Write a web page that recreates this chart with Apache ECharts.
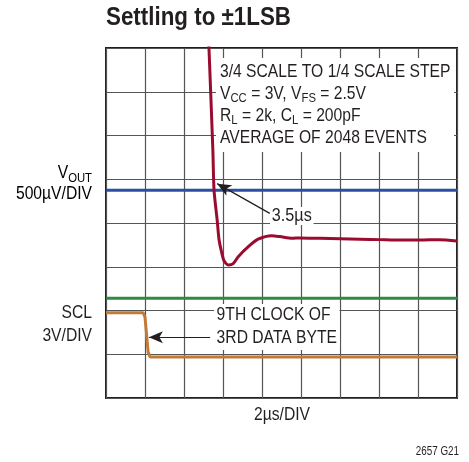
<!DOCTYPE html>
<html>
<head>
<meta charset="utf-8">
<script src="https://cdn.jsdelivr.net/npm/echarts@6/dist/echarts.min.js"></script>
<style>
  html, body { margin: 0; padding: 0; background: #fff; }
  #chart { width: 469px; height: 462px; }
</style>
</head>
<body>
<div id="chart"></div>
<script>
// scope trace, units are divisions (x: 2us/div, y: per channel scale)
const voutX = [2.62, 2.64, 2.74, 2.77, 2.85, 2.90, 2.97, 3.03, 3.14, 3.26, 3.39, 3.65, 3.90, 4.25, 4.46, 4.77, 4.97, 5.49, 6.00, 6.51, 7.03, 7.54, 8.05, 8.56, 9.00];
const voutY = [8.40, 8.00, 5.67, 4.75, 4.07, 3.61, 3.31, 3.13, 3.04, 3.07, 3.23, 3.46, 3.63, 3.71, 3.69, 3.65, 3.66, 3.65, 3.64, 3.63, 3.62, 3.61, 3.61, 3.62, 3.59];
const sclX = [0, 0.95, 1.0, 1.08, 1.13, 9];
const sclY = [1.95, 1.95, 1.85, 1.05, 0.94, 0.94];
const settleLevel = 4.75;   // blue +1LSB reference
const sclRef = 2.28;        // green reference line

const chart = echarts.init(document.getElementById('chart'));
const font = '"Liberation Sans", Arial, sans-serif';
const ink = '#231f20';
const sx = 0.87;  // fake a condensed face

const pts = (xs, ys) => xs.map((x, i) => [x, ys[i]]);

const option = {
  backgroundColor: '#fff',
  animation: false,
  grid: { left: 106, top: 48, width: 351, height: 350, show: true, borderColor: ink, borderWidth: 2 },
  xAxis: {
    type: 'value', min: 0, max: 9, interval: 1,
    axisLine: { show: false }, axisTick: { show: false }, axisLabel: { show: false },
    splitLine: { lineStyle: { color: '#555', width: 1.2 } }
  },
  yAxis: {
    type: 'value', min: 0, max: 8, interval: 1,
    axisLine: { show: false }, axisTick: { show: false }, axisLabel: { show: false },
    splitLine: { lineStyle: { color: '#555', width: 1.2 } }
  },
  series: [
    {
      type: 'line', data: [[0, settleLevel], [9, settleLevel]], symbol: 'none',
      lineStyle: { color: '#2b4fa2', width: 3 }, z: 3
    },
    {
      type: 'line', data: [[0, sclRef], [9, sclRef]], symbol: 'none',
      lineStyle: { color: '#2f8a43', width: 3 }, z: 3
    },
    {
      type: 'line', data: pts(sclX, sclY), symbol: 'none',
      lineStyle: { color: '#c47a37', width: 3 }, z: 4
    },
    {
      type: 'line', data: pts(voutX, voutY), symbol: 'none', smooth: 0.25, clip: true,
      lineStyle: { color: '#9a0c2f', width: 3 }, z: 5,
      markLine: {
        silent: true, symbol: ['none', 'arrow'], symbolSize: [9, 14],
        lineStyle: { color: ink, width: 1.2, type: 'solid' },
        label: { show: false },
        data: [
          [{ coord: [4.2, 4.22] }, { coord: [2.85, 4.9] }],
          [{ coord: [2.67, 1.39] }, { coord: [1.1, 1.39] }]
        ]
      }
    }
  ],
  graphic: [
    {
      type: 'text', x: 106, y: 5, scaleX: 0.86, z: 11,
      style: { text: 'Settling to ±1LSB', font: 'bold 26px ' + font, fill: ink }
    },
    {
      type: 'rect', shape: { x: 216, y: 58, width: 238, height: 94 },
      style: { fill: '#fff' }, z: 10
    },
    {
      type: 'text', x: 220, y: 61, scaleX: sx, z: 11,
      style: {
        text: '3/4 SCALE TO 1/4 SCALE STEP\n{n|V}{s|CC}{n| = 3V, V}{s|FS}{n| = 2.5V}\n{n|R}{s|L}{n| = 2k, C}{s|L}{n| = 200pF}\nAVERAGE OF 2048 EVENTS',
        font: '18px ' + font, fill: ink, lineHeight: 22,
        rich: {
          n: { fontFamily: font, fontSize: 18, color: ink, lineHeight: 22 },
          s: { fontFamily: font, fontSize: 13, color: ink, padding: [9, 0, 0, 0], lineHeight: 22 }
        }
      }
    },
    {
      type: 'text', x: 270, y: 207, scaleX: 0.9, z: 11,
      style: { text: '3.5µs', font: '18px ' + font, fill: ink, backgroundColor: '#fff', padding: [0, 2] }
    },
    {
      type: 'text', x: 214, y: 304, scaleX: sx, z: 11,
      style: {
        text: '9TH CLOCK OF\n3RD DATA BYTE', font: '18px ' + font, fill: ink,
        lineHeight: 23, backgroundColor: '#fff', padding: [0, 3]
      }
    },
    {
      type: 'text', x: 92, y: 163, scaleX: sx, z: 11,
      style: {
        text: '{n|V}{s|OUT}\n{n|500µV/DIV}', align: 'right',
        rich: {
          n: { fontFamily: font, fontSize: 18, color: ink, lineHeight: 21 },
          s: { fontFamily: font, fontSize: 13, color: ink, padding: [9, 0, 0, 0], lineHeight: 21 }
        }
      }
    },
    {
      type: 'text', x: 92, y: 302, scaleX: sx, z: 11,
      style: { text: 'SCL\n3V/DIV', font: '18px ' + font, fill: ink, lineHeight: 23, align: 'right' }
    },
    {
      type: 'text', x: 282, y: 406, scaleX: sx, z: 11,
      style: { text: '2µs/DIV', font: '18px ' + font, fill: ink, align: 'center' }
    },
    {
      type: 'text', x: 459, y: 446, scaleX: 0.82, z: 11,
      style: { text: '2657 G21', font: '12px ' + font, fill: ink, align: 'right' }
    }
  ]
};

chart.setOption(option);
</script>
</body>
</html>
